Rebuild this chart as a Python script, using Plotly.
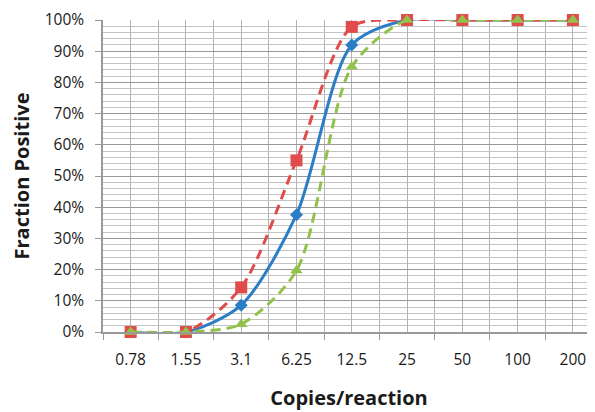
import plotly.graph_objects as go

categories = ["0.78", "1.55", "3.1", "6.25", "12.5", "25", "50", "100", "200"]
blue_vals = [0.0, 0.0, 0.086, 0.376, 0.92, 1.0, 1.0, 1.0, 1.0]
red_vals = [0.0, 0.0, 0.143, 0.55, 0.978, 1.0, 1.0, 1.0, 1.0]
green_vals = [0.0, 0.0, 0.025, 0.197, 0.85, 1.0, 1.0, 1.0, 1.0]
y_ticks = [i / 10 for i in range(11)]
y_ticktext = [f"{i*10}%" for i in range(11)]

xpos = list(range(len(categories)))

RED = "#E04B4B"
BLUE = "#2B7EC6"
GREEN = "#93C24C"

fig = go.Figure()
fig.add_trace(go.Scatter(
    x=xpos, y=blue_vals, mode="lines+markers", cliponaxis=False,
    line=dict(color=BLUE, width=3, shape="spline", smoothing=0.8),
    marker=dict(symbol="diamond", size=10, color=BLUE),
))
fig.add_trace(go.Scatter(
    x=xpos, y=red_vals, mode="lines+markers", cliponaxis=False,
    line=dict(color=RED, width=3, dash="10px,6px", shape="spline", smoothing=0.8),
    marker=dict(symbol="square", size=12, color=RED),
))
fig.add_trace(go.Scatter(
    x=xpos, y=green_vals, mode="lines+markers", cliponaxis=False,
    line=dict(color=GREEN, width=3, dash="10px,6px", shape="spline", smoothing=0.8),
    marker=dict(symbol="triangle-up", size=11, color=GREEN),
))

font_fam = "Open Sans, Lato, Liberation Sans, sans-serif"
fig.update_layout(
    width=587, height=404,
    margin=dict(l=95, r=0, t=10, b=80),
    paper_bgcolor="white", plot_bgcolor="white",
    showlegend=False,
    font=dict(family=font_fam, size=15, color="#1a1a1a"),
    xaxis=dict(
        range=[-0.5, 8.4],
        tickmode="array", tickvals=xpos, ticktext=categories,
        ticks="", showgrid=True, gridcolor="#b3b3b3", gridwidth=1,
        showline=True, linecolor="#999999", linewidth=1.5,
        zeroline=False,
        tickfont=dict(size=15.5),
        ticklabelstandoff=13,
        minor=dict(tickmode="array", tickvals=[i + 0.5 for i in range(-1, 9)],
                   ticks="outside", ticklen=6, tickcolor="#999999",
                   showgrid=True, gridcolor="#b3b3b3", gridwidth=1),
        title=dict(text="<b>Copies/reaction</b>", font=dict(size=20, color="#1a1a1a"), standoff=22),
    ),
    yaxis=dict(
        range=[0, 1.0],
        tickmode="array", tickvals=y_ticks, ticktext=y_ticktext,
        ticks="outside", ticklen=6, tickcolor="#999999",
        showgrid=True, gridcolor="#999999", gridwidth=1,
        showline=True, linecolor="#999999", linewidth=1.5,
        zeroline=False,
        tickfont=dict(size=15.5),
        ticklabelstandoff=8,
        ticklabeloverflow="allow",
        minor=dict(dtick=0.02, showgrid=True, gridcolor="#c4c4c4", gridwidth=1),
        title=dict(text="<b>Fraction Positive</b>", font=dict(size=20, color="#1a1a1a"), standoff=18),
    ),
)

fig.write_html("out.html")
